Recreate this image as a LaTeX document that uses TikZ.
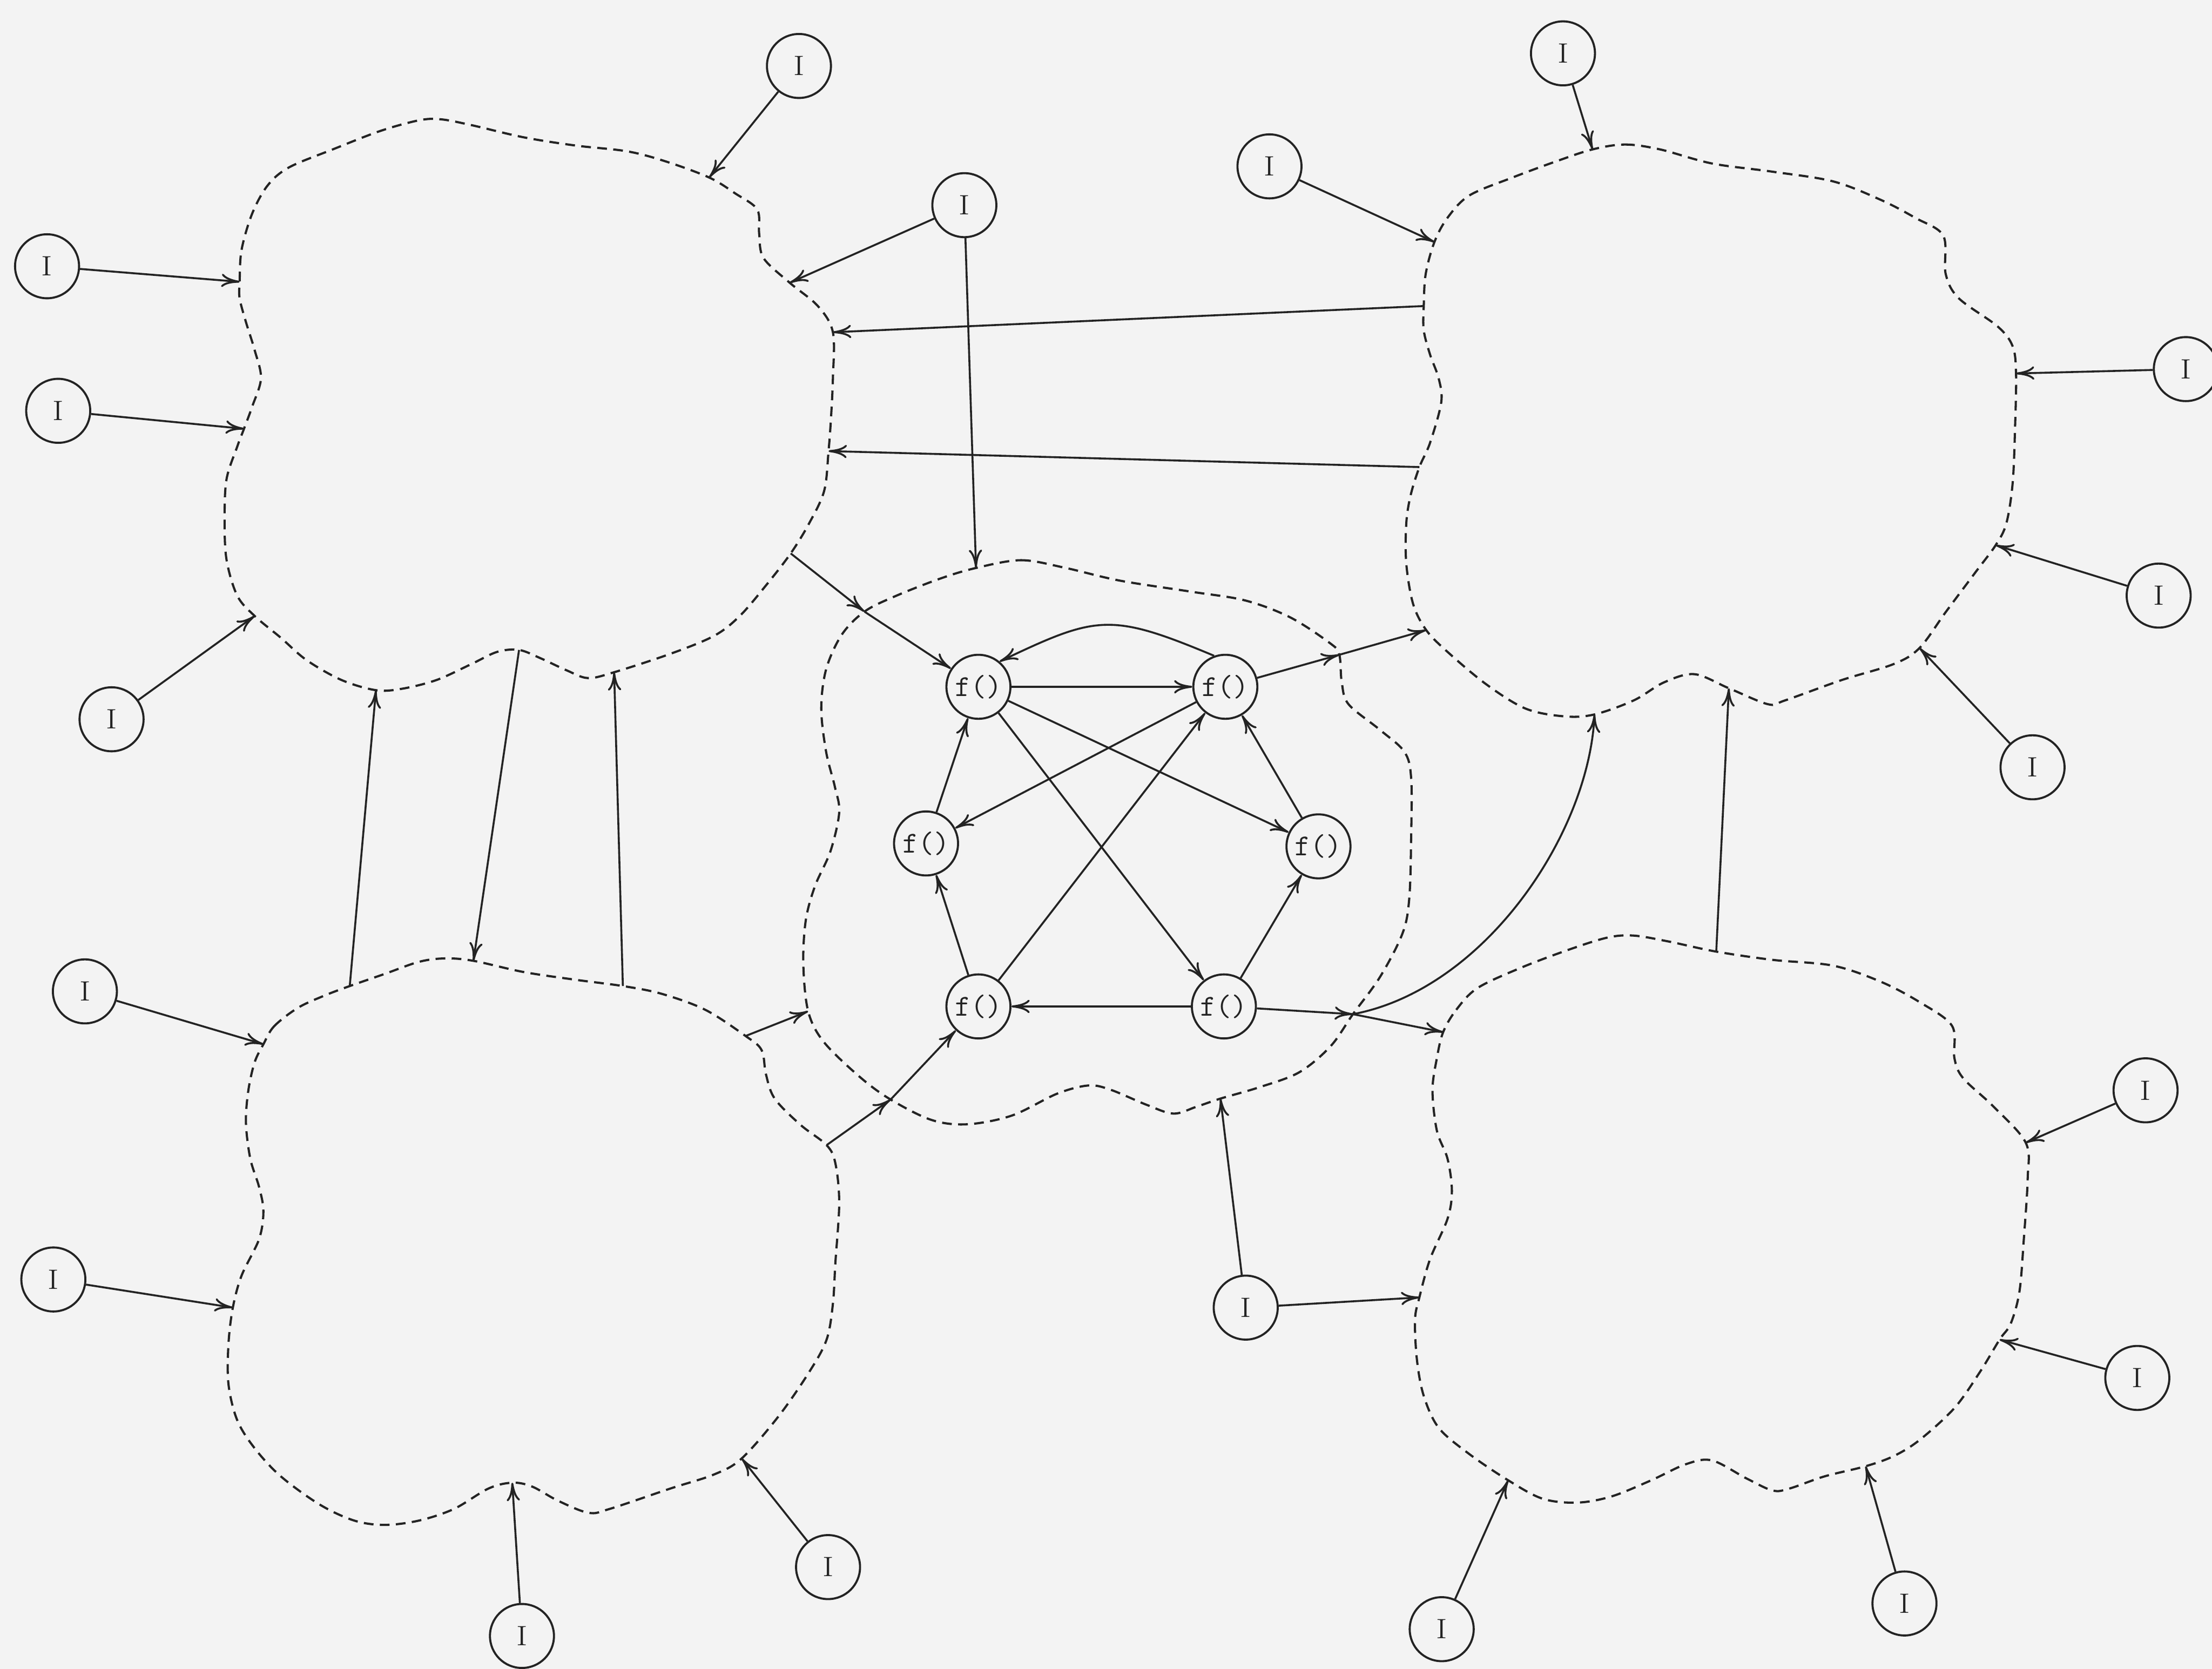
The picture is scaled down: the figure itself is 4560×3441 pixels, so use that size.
\documentclass[tikz,border=0pt]{standalone}
\usetikzlibrary{arrows.meta}
\definecolor{bgc}{RGB}{243,243,243}
\definecolor{ink}{RGB}{35,35,35}
\tikzset{
  inode/.style={circle, draw=ink, line width=0.85pt, minimum size=0.924cm, inner sep=0pt, text=ink, font=\fontsize{11.5}{13}\selectfont},
  fnode/.style={circle, draw=ink, line width=0.85pt, minimum size=0.924cm, inner sep=0pt, text=ink, font=\ttfamily\fontsize{12.5}{13}\selectfont},
  cloudline/.style={draw=ink, line width=0.9pt, dash pattern=on 4pt off 2.6pt},
  arr/.style={draw=ink, line width=0.8pt, -{To[length=7.5pt,width=5.5pt]}},
}
\begin{document}
\begin{tikzpicture}[x=0.007cm, y=-0.007cm]
\fill[bgc] (0,0) rectangle (4560,3441);
\useasboundingbox (0,0) rectangle (4560,3441);

% ---------- cloud attachment points ----------
% top-left cloud
\coordinate (tlA) at (494,581);
\coordinate (tlB) at (1462,366);
\coordinate (tlC) at (1628,583);
\coordinate (tlD) at (1717,685);
\coordinate (tlE) at (1708,930);
\coordinate (tlF) at (1630,1141);
\coordinate (tlG) at (1266,1386);
\coordinate (tlH) at (1070,1340);
\coordinate (tlI) at (775,1423);
\coordinate (tlJ) at (525,1270);
\coordinate (tlK) at (503,884);
% top-right cloud
\coordinate (trA) at (3283,308);
\coordinate (trB) at (4156,770);
\coordinate (trC) at (4114,1124);
\coordinate (trD) at (3957,1336);
\coordinate (trE) at (3564,1419);
\coordinate (trF) at (3287,1473);
\coordinate (trG) at (2940,1299);
\coordinate (trH) at (2926,963);
\coordinate (trI) at (2935,631);
\coordinate (trJ) at (2957,499);
% bottom-left cloud
\coordinate (blA) at (543,2153);
\coordinate (blB) at (721,2033);
\coordinate (blC) at (976,1981);
\coordinate (blD) at (1284,2033);
\coordinate (blE) at (1537,2136);
\coordinate (blF) at (1704,2361);
\coordinate (blG) at (1529,3007);
\coordinate (blH) at (1056,3057);
\coordinate (blI) at (480,2696);
% bottom-right cloud
\coordinate (brA) at (2975,2128);
\coordinate (brB) at (3538,1962);
\coordinate (brC) at (4176,2356);
\coordinate (brD) at (4122,2762);
\coordinate (brE) at (3846,3023);
\coordinate (brF) at (3109,3052);
\coordinate (brG) at (2926,2675);
% central cloud
\coordinate (ceA) at (2012,1171);
\coordinate (ceB) at (2761,1350);
\coordinate (ceC) at (2789,2091);
\coordinate (ceD) at (2516,2265);
\coordinate (ceE) at (1836,2267);
\coordinate (ceF) at (1666,2085);
\coordinate (ceG) at (1782,1261);

% ---------- clouds ----------
\draw[cloudline] plot[smooth cycle, tension=0.55] coordinates {
 (tlA) (498,515) (520,440) (552,382) (596,345) (686,308) (784,270) (864,248) (909,246) (972,258)
 (1079,283) (1186,300) (1293,312) (1373,333) (tlB) (1516,399) (1561,432) (1565,482) (1574,532)
 (tlC) (1686,631) (tlD) (1717,780) (1713,863) (tlE) (1699,1012) (1668,1079) (tlF) (1579,1207)
 (1525,1270) (1472,1311) (1382,1348) (tlG) (1212,1398) (1168,1382) (1114,1357) (tlH) (1025,1344)
 (972,1369) (900,1402) (829,1420) (tlI) (704,1402) (632,1361) (579,1315) (tlJ) (489,1228)
 (467,1154) (463,1071) (467,988) (489,921) (tlK) (520,838) (538,780) (525,722) (507,664) (494,615)};

\draw[cloudline] plot[smooth cycle, tension=0.55] coordinates {
 (trA) (3350,298) (3422,308) (3529,337) (3654,354) (3779,374) (3877,412) (3948,449) (4006,486)
 (4011,565) (4038,615) (4118,673) (4149,714) (trB) (4154,880) (4149,996) (4136,1079) (trC)
 (4073,1179) (4011,1262) (trD) (3904,1369) (3797,1402) (3680,1444) (3645,1452) (trE) (3493,1390)
 (3430,1407) (3368,1444) (trF) (3225,1477) (3145,1461) (3064,1411) (2984,1344) (trG) (2913,1245)
 (2899,1162) (2899,1079) (2908,1021) (trH) (2948,913) (2971,830) (2966,781) (2948,731) (2935,681)
 (trI) (2939,565) (trJ) (2984,449) (3029,403) (3118,366) (3207,333)};

\draw[cloudline] plot[smooth cycle, tension=0.55] coordinates {
 (blA) (565,2116) (614,2078) (668,2053) (blB) (793,2008) (864,1983) (918,1976) (blC) (1079,2004)
 (1186,2020) (blD) (1364,2049) (1454,2082) (blE) (1570,2165) (1579,2215) (1597,2265) (1650,2319)
 (blF) (1722,2398) (1730,2480) (1722,2605) (1717,2688) (1704,2762) (1668,2829) (1605,2920) (blG)
 (1472,3040) (1382,3069) (1257,3111) (1213,3119) (1150,3094) (1097,3065) (blH) (1007,3069)
 (936,3111) (864,3135) (793,3144) (730,3135) (659,3102) (579,3044) (525,2986) (489,2928)
 (471,2854) (471,2771) (blI) (498,2630) (534,2555) (543,2497) (534,2447) (516,2389) (507,2315)
 (512,2248) (525,2190)};

\draw[cloudline] plot[smooth cycle, tension=0.55] coordinates {
 (brA) (3002,2082) (3046,2037) (3136,1995) (3234,1958) (3314,1933) (3368,1929) (3439,1941) (brB)
 (3654,1979) (3779,1991) (3877,2024) (3957,2066) (4024,2115) (4029,2182) (4047,2223) (4109,2281)
 (brC) (4180,2430) (4172,2555) (4163,2663) (4145,2729) (brD) (4082,2828) (4029,2903) (3957,2969)
 (3904,3002) (brE) (3761,3044) (3689,3069) (3654,3073) (3600,3048) (3529,3011) (3475,3019)
 (3404,3052) (3323,3085) (3252,3098) (3180,3090) (brF) (3029,2998) (2966,2944) (2935,2878)
 (2921,2804) (2917,2721) (brG) (2948,2596) (2984,2513) (2993,2455) (2984,2389) (2962,2331)
 (2953,2248) (2962,2182)};

\draw[cloudline] plot[smooth cycle, tension=0.55] coordinates {
 (ceA) (2105,1155) (2197,1171) (2308,1197) (2456,1220) (2567,1238) (2660,1273) (2743,1327) (ceB)
 (2766,1407) (2780,1452) (2845,1505) (2895,1550) (2909,1604) (2909,1729) (2905,1854) (2891,1925)
 (2845,2014) (ceC) (2743,2157) (2678,2211) (2595,2242) (ceD) (2466,2282) (2419,2296) (2364,2278)
 (2290,2247) (2244,2238) (2179,2255) (2086,2300) (1994,2318) (1920,2309) (ceE) (1772,2220)
 (1698,2148) (ceF) (1656,1988) (1661,1898) (1680,1827) (1712,1755) (1730,1675) (1721,1622)
 (1703,1550) (1693,1461) (1703,1380) (1735,1309) (ceG) (1846,1229) (1938,1193)};

% ---------- nodes ----------
\node[inode] (i1) at (1647,136) {I};
\node[inode] (i2) at (97,549) {I};
\node[inode] (i3) at (120,847) {I};
\node[inode] (i4) at (230,1483) {I};
\node[inode] (i5) at (1988,423) {I};
\node[inode] (i6) at (3222,110) {I};
\node[inode] (i7) at (2617,343) {I};
\node[inode] (i8) at (4506,761) {I};
\node[inode] (i9) at (4450,1228) {I};
\node[inode] (i10) at (4190,1582) {I};
\node[inode] (i11) at (175,2044) {I};
\node[inode] (i12) at (110,2638) {I};
\node[inode] (i13) at (1076,3373) {I};
\node[inode] (i14) at (1707,3231) {I};
\node[inode] (i15) at (2568,2696) {I};
\node[inode] (i16) at (4423,2248) {I};
\node[inode] (i17) at (4406,2841) {I};
\node[inode] (i18) at (3926,3306) {I};
\node[inode] (i19) at (2972,3359) {I};

\node[fnode] (f1) at (2017,1416) {f()};
\node[fnode] (f2) at (2526,1416) {f()};
\node[fnode] (f3) at (1909,1739) {f()};
\node[fnode] (f4) at (2718,1745) {f()};
\node[fnode] (f5) at (2017,2075) {f()};
\node[fnode] (f6) at (2523,2075) {f()};

% ---------- inputs ----------
\draw[arr] (i1) -- (tlB);
\draw[arr] (i2) -- (tlA);
\draw[arr] (i3) -- (tlK);
\draw[arr] (i4) -- (tlJ);
\draw[arr] (i5) -- (tlC);
\draw[arr] (i5) -- (ceA);
\draw[arr] (i6) -- (trA);
\draw[arr] (i7) -- (trJ);
\draw[arr] (i8) -- (trB);
\draw[arr] (i9) -- (trC);
\draw[arr] (i10) -- (trD);
\draw[arr] (i11) -- (blA);
\draw[arr] (i12) -- (blI);
\draw[arr] (i13) -- (blH);
\draw[arr] (i14) -- (blG);
\draw[arr] (i15) -- (ceD);
\draw[arr] (i15) -- (brG);
\draw[arr] (i16) -- (brC);
\draw[arr] (i17) -- (brD);
\draw[arr] (i18) -- (brE);
\draw[arr] (i19) -- (brF);

% ---------- between clouds ----------
\draw[arr] (trI) -- (tlD);
\draw[arr] (trH) -- (tlE);
\draw[arr] (tlH) -- (blC);
\draw[arr] (blB) -- (tlI);
\draw[arr] (blD) -- (tlG);
\draw[arr] (brB) -- (trE);
\draw[arr] (blE) -- (ceF);
\draw[arr] (tlF) -- (ceG);
\draw[arr] (ceG) -- (f1);
\draw[arr] (blF) -- (ceE);
\draw[arr] (ceE) -- (f5);
\draw[arr] (f2) -- (ceB);
\draw[arr] (ceB) -- (trG);
\draw[arr] (f6) -- (ceC);
\draw[arr] (ceC) -- (brA);
\draw[arr] (ceC) .. controls (3060,2040) and (3275,1720) .. (trF);

% ---------- inside the central cloud ----------
\draw[arr] (f1) -- (f2);
\draw[arr] (f2.110) .. controls +(-215,-90) and +(200,-95) .. (f1.50);
\draw[arr] (f3) -- (f1);
\draw[arr] (f5) -- (f3);
\draw[arr] (f5) -- (f2);
\draw[arr] (f2) -- (f3);
\draw[arr] (f1) -- (f4);
\draw[arr] (f1) -- (f6);
\draw[arr] (f6) -- (f4);
\draw[arr] (f4) -- (f2);
\draw[arr] (f6) -- (f5);
\end{tikzpicture}
\end{document}
